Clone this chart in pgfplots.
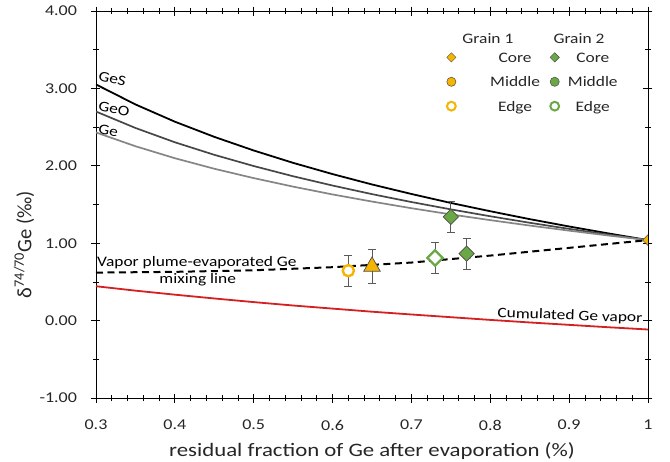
\documentclass[border=0pt]{standalone}
\usepackage{fontspec}
\setmainfont{Carlito}[FakeStretch=1.2]
\newfontfamily\ylfont{Carlito}
\usepackage{pgfplots}
\pgfplotsset{compat=1.18}
\definecolor{gold}{HTML}{F5B400}
\definecolor{grn}{HTML}{6AA845}
\definecolor{redl}{HTML}{D42020}
\pgfplotsset{eb/.style={forget plot, error bars/.cd, y dir=both, y explicit, error bar style={black!65, line width=0.9pt}, error mark options={rotate=90, mark size=4pt, black!65, line width=0.9pt}}}
\newcommand{\fs}{\fontsize{14.5}{17}\selectfont}
\newcommand{\la}[1]{\hspace*{34pt}\makebox[50pt]{\strut #1}\hspace*{10pt}}
\newcommand{\lb}[1]{\hspace*{8.4pt}\makebox[50pt]{\strut #1}}
\begin{document}
\begin{tikzpicture}
\begin{axis}[
  scale only axis, width=552pt, height=387pt,
  xmin=0.3, xmax=1, ymin=-1, ymax=4,
  xtick={0.3,0.4,...,1.0}, xticklabels={0.3,0.4,0.5,0.6,0.7,0.8,0.9,1},
  ytick={-1,0,1,2,3,4},
  minor x tick num=4, minor y tick num=1,
  tick align=center, major tick length=9pt, minor tick length=6pt,
  tick style={black, line width=0.8pt},
  axis line style={line width=0.9pt},
  /pgf/number format/assume math mode=true,
  ticklabel style={font=\fontsize{15}{17}\selectfont, text=black!85},
  xticklabel style={yshift=-14pt},
  yticklabel style={xshift=-11pt, /pgf/number format/.cd, fixed, fixed zerofill, precision=2},
  xlabel={residual fraction of Ge after evaporation (\%)},
  label style={font=\fontsize{19}{22}\selectfont, text=black!85},
  xlabel style={yshift=-5pt},
  legend columns=2,
  legend style={draw=none, fill=none, inner sep=0pt, at={(axis cs:0.7445,3.49)}, anchor=north west,
    font=\fs, text=black!85, row sep=11pt, nodes={inner sep=0pt},
    /tikz/every odd column/.append style={column sep=0pt},
    /tikz/every even column/.append style={column sep=0pt}},
  legend cell align=left,
]
% Rayleigh curves
\addplot[black, line width=1.8pt, forget plot] coordinates {
(0.30,3.051)(0.35,2.793)(0.40,2.570)(0.45,2.374)(0.50,2.198)(0.55,2.038)(0.60,1.893)(0.65,1.759)(0.70,1.636)(0.75,1.520)(0.80,1.413)(0.85,1.311)(0.90,1.216)(0.95,1.126)(1.00,1.040)};
\addplot[black!72, line width=1.7pt, forget plot] coordinates {
(0.30,2.701)(0.35,2.489)(0.40,2.304)(0.45,2.142)(0.50,1.997)(0.55,1.865)(0.60,1.745)(0.65,1.634)(0.70,1.532)(0.75,1.437)(0.80,1.348)(0.85,1.264)(0.90,1.185)(0.95,1.111)(1.00,1.040)};
\addplot[black!48, line width=1.7pt, forget plot] coordinates {
(0.30,2.431)(0.35,2.253)(0.40,2.098)(0.45,1.962)(0.50,1.841)(0.55,1.731)(0.60,1.630)(0.65,1.538)(0.70,1.452)(0.75,1.372)(0.80,1.298)(0.85,1.228)(0.90,1.162)(0.95,1.099)(1.00,1.040)};
% cumulated vapor
\addplot[redl, line width=1.8pt, forget plot] coordinates {
(0.30,0.444)(0.35,0.387)(0.40,0.335)(0.45,0.286)(0.50,0.239)(0.55,0.195)(0.60,0.155)(0.65,0.115)(0.70,0.079)(0.75,0.044)(0.80,0.009)(0.85,-0.024)(0.90,-0.055)(0.95,-0.086)(1.00,-0.115)};
% mixing line
\addplot[black, line width=2pt, dash pattern=on 7pt off 4.5pt, forget plot] coordinates {
(0.30,0.62)(0.40,0.63)(0.50,0.65)(0.60,0.69)(0.70,0.75)(0.80,0.84)(0.90,0.94)(1.00,1.04)};
% data with error bars
\addplot[only marks, mark=*, mark size=5.6pt, mark options={draw=gold, fill=white, line width=2.4pt}, eb]
  coordinates {(0.62,0.645) +- (0,0.20)};
\addplot[only marks, mark=triangle*, mark size=9.5pt, mark options={draw=black!70, fill=gold, line width=0.7pt}, eb]
  coordinates {(0.65,0.70) +- (0,0.22)};
\addplot[only marks, mark=square*, mark size=5.4pt, mark options={rotate=45, draw=grn, fill=white, line width=2.3pt}, eb]
  coordinates {(0.73,0.81) +- (0,0.20)};
\addplot[only marks, mark=square*, mark size=5.4pt, mark options={rotate=45, draw=black!70, fill=grn, line width=0.7pt}, eb]
  coordinates {(0.77,0.865) +- (0,0.20) (0.75,1.34) +- (0,0.20)};
\addplot[only marks, mark=square*, mark size=3.8pt, mark options={rotate=45, draw=black!70, fill=gold, line width=0.5pt}, forget plot, clip mode=individual]
  coordinates {(1.0,1.04)};
% legend
\addlegendimage{only marks, mark=square*, mark size=3.3pt, mark options={rotate=45, draw=black!70, fill=gold, line width=0.4pt}}
\addlegendentry{\la{Core}}
\addlegendimage{only marks, mark=square*, mark size=3.3pt, mark options={rotate=45, draw=black!70, fill=grn, line width=0.4pt}}
\addlegendentry{\lb{Core}}
\addlegendimage{only marks, mark=*, mark size=4.6pt, mark options={draw=black!70, fill=gold, line width=0.5pt}}
\addlegendentry{\la{Middle}}
\addlegendimage{only marks, mark=*, mark size=4.6pt, mark options={draw=black!70, fill=grn, line width=0.5pt}}
\addlegendentry{\lb{Middle}}
\addlegendimage{only marks, mark=*, mark size=4.4pt, mark options={draw=gold, fill=white, line width=2pt}}
\addlegendentry{\la{Edge}}
\addlegendimage{only marks, mark=*, mark size=4.4pt, mark options={draw=grn, fill=white, line width=2pt}}
\addlegendentry{\lb{Edge}}
% headings and annotations
\node[font=\fs, text=black!85] at (axis cs:0.797,3.65) {Grain 1};
\node[font=\fs, text=black!85] at (axis cs:0.9125,3.65) {Grain 2};
\node[font=\fs, rotate=-13, anchor=south west, inner sep=0pt] at (axis cs:0.302,3.10) {GeS};
\node[font=\fs, rotate=-11, anchor=south west, inner sep=0pt] at (axis cs:0.302,2.71) {GeO};
\node[font=\fs, rotate=-10, anchor=south west, inner sep=0pt] at (axis cs:0.302,2.41) {Ge};
\node[font=\fs, anchor=south west, inner sep=1pt] at (axis cs:0.30,0.655) {Vapor plume-evaporated Ge};
\node[font=\fs, inner sep=1pt] at (axis cs:0.429,0.525) {mixing line};
\node[font=\fs, rotate=-2, anchor=south east, inner sep=1pt] at (axis cs:0.994,-0.07) {Cumulated Ge vapor};
\coordinate (ylab) at (rel axis cs:0,0.5);
\end{axis}
\node[font=\ylfont\fontsize{20.5}{24}\selectfont, text=black!85, rotate=90, anchor=center, inner sep=0pt]
  at ([xshift=-72pt, yshift=-40pt]ylab) {δ\textsuperscript{74/70}Ge (‰)};
\pgfresetboundingbox
\path[use as bounding box] (-96pt,-63pt) rectangle (574pt,398pt);
\end{tikzpicture}
\end{document}
